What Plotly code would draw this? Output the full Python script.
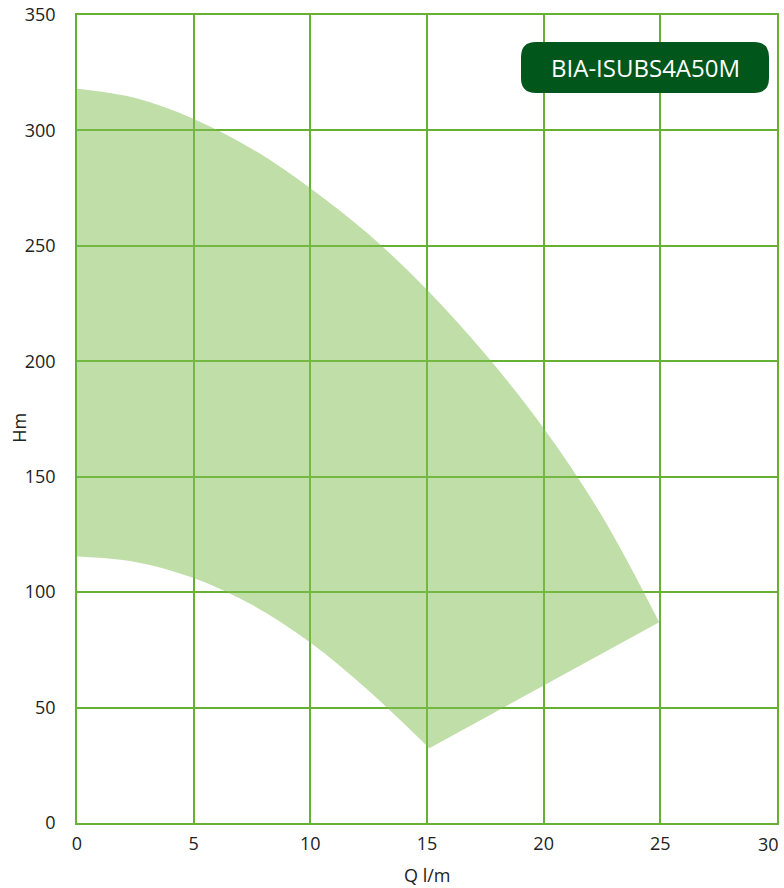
import plotly.graph_objects as go

# Pump operating range: upper (max head) and lower (min head) boundary curves
q_upper = [0, 2.5, 5, 7.5, 10, 12.5, 15, 17.5, 20, 22.5, 24.95]
h_upper = [318, 314, 305, 292, 275, 255, 231, 203, 171, 133, 87]

q_lower = [0, 2.5, 5, 7.5, 10, 12.5, 15.1]
h_lower = [115.4, 113.1, 106.1, 94.5, 78.2, 57.3, 32.4]

x_ticks = [0, 5, 10, 15, 20, 25, 30]
x_labels = ["0", "5", "10", "15", "20", "25", "30"]
y_ticks = [0, 50, 100, 150, 200, 250, 300, 350]

model_name = "BIA-ISUBS4A50M"

GRID = "#66b034"
FILL = "rgba(130,190,80,0.5)"
TEXT = "#222222"
FONT = "Open Sans"

fig = go.Figure()

# lower boundary first, upper boundary fills down to it (endpoints joined by a straight edge)
fig.add_trace(go.Scatter(
    x=q_lower, y=h_lower, mode="lines",
    line=dict(width=0, shape="spline", color=FILL),
    hoverinfo="skip", showlegend=False,
))
fig.add_trace(go.Scatter(
    x=q_upper, y=h_upper, mode="lines",
    line=dict(width=0, shape="spline", color=FILL),
    fill="tonexty", fillcolor=FILL,
    hoverinfo="skip", showlegend=False,
))

axis_common = dict(
    showgrid=True, gridcolor=GRID, gridwidth=1.5,
    showline=True, linecolor=GRID, linewidth=1.5, mirror=True,
    zeroline=False, ticks="", automargin=False,
    tickfont=dict(family=FONT, size=18, color=TEXT),
)

# the last x label sits at the page edge, so it is drawn right-aligned separately
fig.update_xaxes(range=[0, 30], tickvals=x_ticks,
                 ticktext=x_labels[:-1] + [""], ticklabelstandoff=4, **axis_common)
fig.update_yaxes(range=[0, 350], tickvals=y_ticks, ticklabelstandoff=16, **axis_common)

fig.add_annotation(text=x_labels[-1], x=x_ticks[-1], y=-0.026,
                   xref="x", yref="paper", showarrow=False,
                   xanchor="right", yanchor="middle", xshift=4,
                   font=dict(family=FONT, size=18, color=TEXT))

# rounded badge holding the model name (paper coordinates)
x0, x1 = 0.6343, 0.9886
y0, y1 = 0.9035, 0.9666
rx, ry = 15 / 700, 15 / 808
badge = (
    f"M {x0+rx},{y0} L {x1-rx},{y0} Q {x1},{y0} {x1},{y0+ry} "
    f"L {x1},{y1-ry} Q {x1},{y1} {x1-rx},{y1} "
    f"L {x0+rx},{y1} Q {x0},{y1} {x0},{y1-ry} "
    f"L {x0},{y0+ry} Q {x0},{y0} {x0+rx},{y0} Z"
)
fig.add_shape(type="path", path=badge, xref="paper", yref="paper",
              fillcolor="#00561b", line=dict(width=0), layer="above")

fig.add_annotation(text=model_name, x=(x0 + x1) / 2, y=(y0 + y1) / 2,
                   xref="paper", yref="paper", showarrow=False,
                   xanchor="center", yanchor="middle",
                   font=dict(family=FONT, size=24, color="white"))

# axis titles
fig.add_annotation(text="Q l/m", x=0.5, y=-0.0644, xref="paper", yref="paper",
                   showarrow=False, xanchor="center", yanchor="middle",
                   font=dict(family=FONT, size=18, color=TEXT))
fig.add_annotation(text="Hm", x=-0.0829, y=0.489, xref="paper", yref="paper",
                   showarrow=False, textangle=-90, xanchor="center", yanchor="middle",
                   font=dict(family=FONT, size=18, color=TEXT))

fig.update_layout(
    width=784, height=888,
    margin=dict(l=77, r=7, t=15, b=65),
    plot_bgcolor="white", paper_bgcolor="white",
    font=dict(family=FONT, color=TEXT),
)

fig.write_html("out.html")
